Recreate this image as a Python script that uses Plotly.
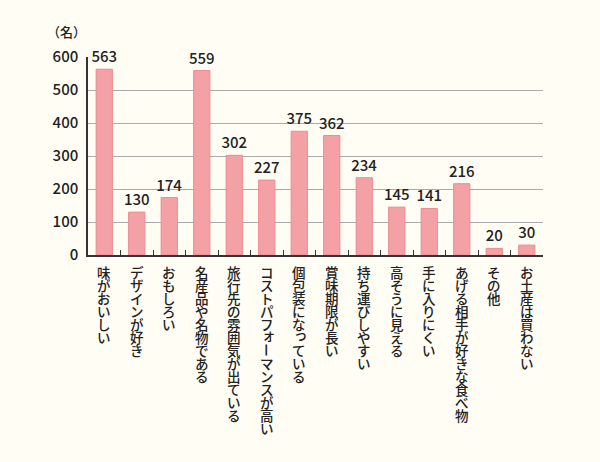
import plotly.graph_objects as go

# data
categories = [
    "味がおいしい", "デザインが好き", "おもしろい", "名産品や名物である",
    "旅行先の雰囲気が出ている", "コストパフォーマンスが高い", "個包装になっている",
    "賞味期限が長い", "持ち運びしやすい", "高そうに見える", "手に入りにくい",
    "あげる相手が好きな食べ物", "その他", "お土産は買わない",
]
counts = [563, 130, 174, 559, 302, 227, 375, 362, 234, 145, 141, 216, 20, 30]
y_ticks = [0, 100, 200, 300, 400, 500, 600]
unit_label = "（名）"

FONT = "Noto Sans CJK JP"
BG = "#FFFDF4"
SMALL_KANA = set("ァィゥェォッャュョぁぃぅぇぉっゃゅょ")

fig = go.Figure(go.Bar(
    x=categories,
    y=counts,
    marker=dict(color="#F4A1A5", line=dict(color="#EC8A91", width=1)),
    text=counts,
    textposition="outside",
    constraintext="none",
    textfont=dict(family=FONT, size=15, color="#222", weight=500),
    cliponaxis=False,
))

# vertical (tategaki) category labels, one character per annotation
annotations = []
for cat in categories:
    for j, ch in enumerate(cat):
        a = dict(x=cat, xref="x", y=0, yref="y", text=ch, showarrow=False,
                 yshift=-(17 + j * 13), yanchor="middle", xanchor="center",
                 font=dict(family=FONT, size=13.5, color="#222", weight=500))
        if ch == "ー":
            a["textangle"] = 90
        if ch in SMALL_KANA:
            a["xshift"] = 2
            a["yshift"] += 3
        annotations.append(a)

# unit label above the y axis
annotations.append(dict(x=(66 - 88) / 455, y=1 + (57 - 32) / 198,
                        xref="paper", yref="paper", text=unit_label,
                        showarrow=False, xanchor="center", yanchor="middle",
                        font=dict(family=FONT, size=13, color="#222", weight=500)))

fig.update_layout(
    width=600, height=462,
    margin=dict(l=88, r=57, t=57, b=207),
    paper_bgcolor=BG,
    plot_bgcolor=BG,
    bargap=0.5,
    showlegend=False,
    font=dict(family=FONT, color="#222"),
    annotations=annotations,
    xaxis=dict(
        showticklabels=False, ticks="inside", tickson="boundaries",
        ticklen=5, tickcolor="#333", showline=True, linecolor="#333",
        linewidth=1.5, showgrid=False, range=[-0.5, len(categories) - 0.5],
    ),
    yaxis=dict(
        range=[0, 600], tickvals=y_ticks, showline=True, linecolor="#333",
        linewidth=1.5, gridcolor="#ABABAB", gridwidth=1.2, zeroline=False,
        ticks="", ticklabelstandoff=5,
        tickfont=dict(family=FONT, size=15, color="#222", weight=500),
    ),
)

fig.write_html("out.html", config={"displayModeBar": False},
               post_script="document.body.style.margin='0';"
                           "document.body.style.background='" + BG + "';")
